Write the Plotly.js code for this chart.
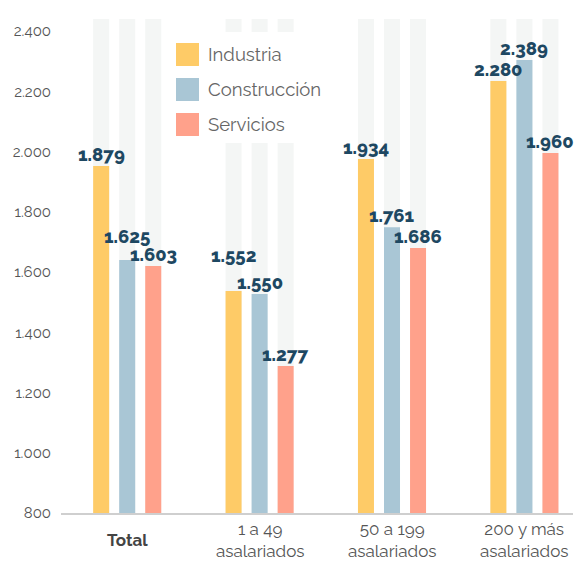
<!DOCTYPE html>
<html>
<head>
<meta charset="utf-8">
<script src="https://cdn.plot.ly/plotly-3.0.1.min.js"></script>
<style>html,body{margin:0;padding:0;background:#fff}#chart{width:576px;height:563px}</style>
</head>
<body>
<div id="chart"></div>
<script>
// ---- data ----
const categories = ['Total', '1 a 49<br>asalariados', '50 a 199<br>asalariados', '200 y más<br>asalariados'];
const seriesNames = ['Industria', 'Construcción', 'Servicios'];
// bar heights as drawn
const industria    = [1952, 1537, 1975, 2234];
const construccion = [1640, 1527, 1749, 2304];
const servicios    = [1620, 1288, 1680, 1995];
// value labels as printed
const labelsIndustria    = ['1.879', '1.552', '1.934', '2.280'];
const labelsConstruccion = ['1.625', '1.550', '1.761', '2.389'];
const labelsServicios    = ['1.603', '1.277', '1.686', '1.960'];
const yTicks = [800, 1000, 1200, 1400, 1600, 1800, 2000, 2200, 2400];
const trackTop = 2440;

// ---- styling ----
const colors = ['#FECB67', '#A9C6D5', '#FFA18B'];
const trackColor = '#F4F6F5';
const labelColor = '#1E4862';
const FONT = 'Raleway, Lato, "Open Sans", sans-serif';
const bargap = 0.41, bargroupgap = 0.385;
const slot = (1 - bargap) / 3;

const xs = categories.map((c, i) => i);
const values = [industria, construccion, servicios];
const labels = [labelsIndustria, labelsConstruccion, labelsServicios];

const traces = [];
seriesNames.forEach((name, s) => {
  traces.push({
    type: 'bar', x: xs, y: xs.map(() => trackTop), offsetgroup: 'g' + s,
    marker: {color: trackColor}, hoverinfo: 'skip', showlegend: false
  });
});
seriesNames.forEach((name, s) => {
  traces.push({
    type: 'bar', name: name, x: xs, y: values[s], offsetgroup: 'g' + s,
    marker: {color: colors[s]}, showlegend: false
  });
});

const annotations = [];
// nudges for labels that would collide
const nudge = {'1-0': 12, '0-1': 24};
labels.forEach((arr, s) => {
  arr.forEach((t, i) => {
    annotations.push({
      x: i + (s - 1) * slot, y: values[s][i], xref: 'x', yref: 'y',
      text: t, showarrow: false, yanchor: 'bottom', xanchor: 'center',
      yshift: -1 + (nudge[s + '-' + i] || 0),
      font: {family: FONT, size: 18.5, color: labelColor, weight: 800}
    });
  });
});
// category labels
categories.forEach((c, i) => {
  annotations.push({
    x: i, y: 0, xref: 'x', yref: 'paper', yanchor: 'middle', yshift: -27,
    text: i === 0 ? '<b>' + c + '</b>' : c, showarrow: false,
    font: {family: FONT, size: 17, color: i === 0 ? '#444' : '#555'}
  });
});

// custom legend
const L = {x0: 0.2246, x1: 0.2695, ys: [[0.9514, 0.9049], [0.8806, 0.8340], [0.8097, 0.7632]]};
const shapes = [{
  type: 'rect', xref: 'paper', yref: 'paper', x0: 0.203, x1: 0.545, y0: 0.749, y1: 0.9737,
  fillcolor: '#fff', line: {width: 0}, layer: 'above'
}];
seriesNames.forEach((name, s) => {
  shapes.push({
    type: 'rect', xref: 'paper', yref: 'paper', x0: L.x0, x1: L.x1, y0: L.ys[s][1], y1: L.ys[s][0],
    fillcolor: colors[s], line: {width: 0}, layer: 'above'
  });
  annotations.push({
    x: 0.2832, y: (L.ys[s][0] + L.ys[s][1]) / 2, xref: 'paper', yref: 'paper',
    xanchor: 'left', yanchor: 'middle', text: name, showarrow: false,
    font: {family: FONT, size: 18.5, color: '#666'}
  });
});

const layout = {
  width: 576, height: 563,
  margin: {l: 61, r: 3, t: 19, b: 50},
  paper_bgcolor: '#fff', plot_bgcolor: '#fff',
  separators: ',.',
  barmode: 'group', bargap: bargap, bargroupgap: bargroupgap,
  showlegend: false,
  xaxis: {
    range: [-0.5, 3.367], showticklabels: false, showgrid: false, zeroline: false,
    showline: true, linecolor: '#cfcfcf', linewidth: 1.5, fixedrange: true
  },
  yaxis: {
    range: [800, trackTop], tickvals: yTicks, tickformat: ',d',
    showgrid: false, zeroline: false, showline: false, ticks: '',
    ticklabelstandoff: 9,
    tickfont: {family: FONT, size: 15, color: '#555'}, fixedrange: true
  },
  shapes: shapes,
  annotations: annotations,
  font: {family: FONT}
};

Plotly.newPlot('chart', traces, layout, {displayModeBar: false, staticPlot: true});
</script>
</body>
</html>
